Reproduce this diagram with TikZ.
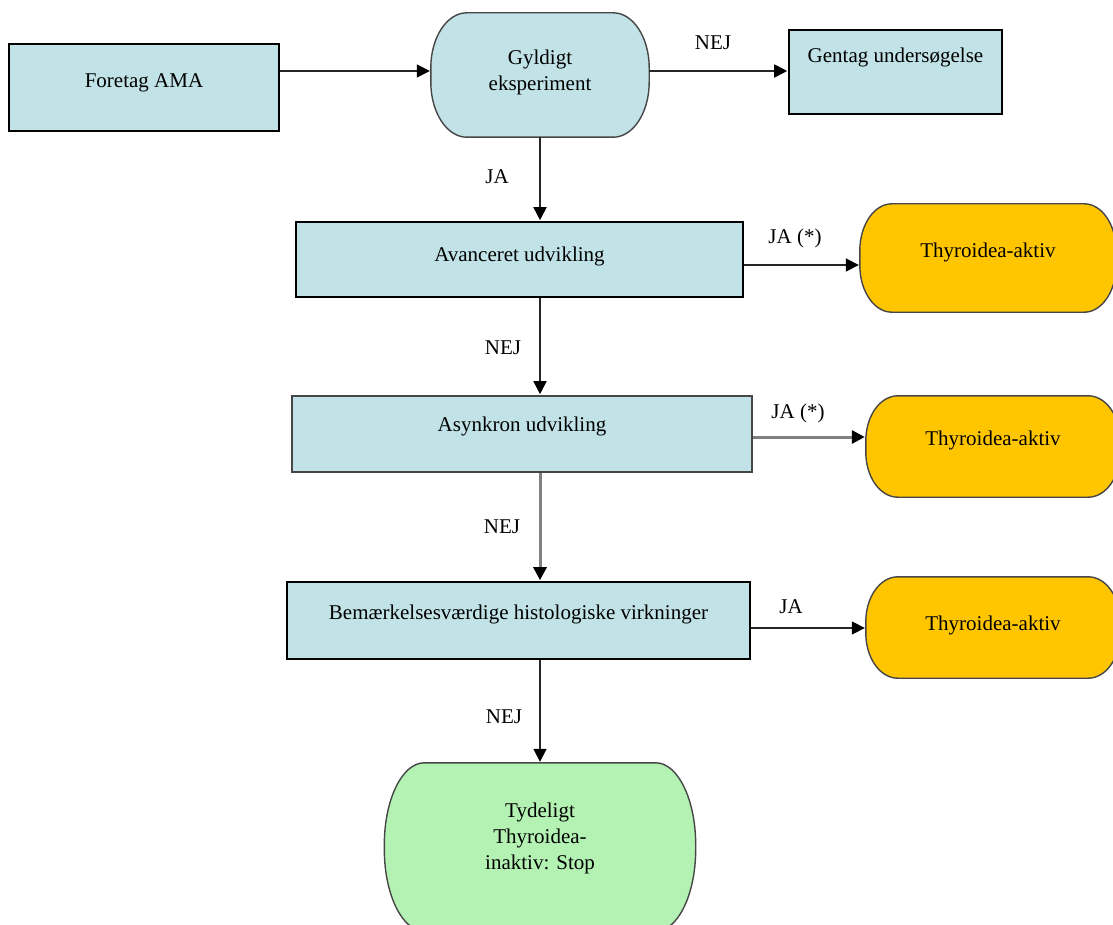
\documentclass[tikz,border=0pt]{standalone}
\usepackage{fontspec}
\setmainfont{Liberation Serif}
\usetikzlibrary{arrows.meta,backgrounds,calc}

\definecolor{boxblue}{RGB}{193,226,230}
\definecolor{amber}{RGB}{255,198,0}
\definecolor{mint}{RGB}{179,242,179}
\definecolor{edgegray}{RGB}{70,70,70}
\definecolor{linegray}{RGB}{128,128,128}

% outline with elliptical corners around a named node: name, x radius, y radius, style
\newcommand\termshape[4]{%
  \draw[#4] ([xshift=#2]#1.north west) -- ([xshift=-#2]#1.north east)
    arc[start angle=90,end angle=0,x radius=#2,y radius=#3]
    -- ([yshift=#3]#1.south east)
    arc[start angle=0,end angle=-90,x radius=#2,y radius=#3]
    -- ([xshift=#2]#1.south west)
    arc[start angle=-90,end angle=-180,x radius=#2,y radius=#3]
    -- ([yshift=-#3]#1.north west)
    arc[start angle=180,end angle=90,x radius=#2,y radius=#3]
    -- cycle;}

\tikzset{
  txt/.style={font=\fontsize{21}{26}\selectfont, align=center, inner sep=0pt},
  blockbox/.style={draw=black, line width=1.6pt, fill=boxblue, inner sep=0pt},
  shell/.style={inner sep=0pt},
  lbl/.style={font=\fontsize{21}{26}\selectfont, inner sep=0pt},
  arr/.style={line width=1.7pt, draw=black!85, shorten >=1pt,
    -{Triangle[length=13pt,width=13pt,color=black]}},
  grayarr/.style={arr, draw=linegray, line width=3pt},
}

\begin{document}
\begin{tikzpicture}[x=1pt,y=-1pt]
\useasboundingbox (0,0) rectangle (1113,925);

% process boxes
\node[blockbox, minimum width=270pt, minimum height=87pt,
  label={[txt,yshift=5pt]center:Foretag AMA}] (ama) at (144,87.5) {};
\node[blockbox, minimum width=213pt, minimum height=84pt,
  label={[txt,yshift=15pt]center:Gentag undersøgelse}] (gen) at (895.5,72) {};
\node[blockbox, minimum width=447pt, minimum height=75pt,
  label={[txt,yshift=3.5pt]center:Avanceret udvikling}] (avan) at (519.5,259.5) {};
\node[blockbox, draw=edgegray, minimum width=460pt, minimum height=76pt,
  label={[txt,yshift=8pt]center:Asynkron udvikling}] (asyn) at (522,434) {};
\node[blockbox, minimum width=463pt, minimum height=77pt,
  label={[txt,yshift=6pt]center:Bemærkelsesværdige histologiske virkninger}] (bem) at (518.5,620.5) {};

% decision and end points with rounded ends
\node[shell, minimum width=218pt, minimum height=124pt,
  label={[txt,yshift=2.5pt]center:Gyldigt\\eksperiment}] (gyl) at (540,75) {};
\node[shell, minimum width=256pt, minimum height=108pt,
  label={[txt,yshift=6pt]center:Thyroidea-aktiv}] (thya) at (988,258) {};
\node[shell, minimum width=254pt, minimum height=101pt,
  label={[txt,yshift=6pt]center:Thyroidea-aktiv}] (thyb) at (993,446.5) {};
\node[shell, minimum width=254pt, minimum height=101pt,
  label={[txt,yshift=2pt]center:Thyroidea-aktiv}] (thyc) at (993,627.5) {};
\node[shell, minimum width=311pt, minimum height=168pt,
  label={[txt,yshift=9pt]center:Tydeligt\\Thyroidea-\\inaktiv: Stop}] (tyd) at (540,847) {};

\begin{scope}[on background layer]
  \termshape{gyl}{36pt}{55pt}{draw=edgegray, line width=1.4pt, fill=boxblue}
  \termshape{thya}{32pt}{47pt}{draw=edgegray, line width=1.4pt, fill=amber}
  \termshape{thyb}{32pt}{45pt}{draw=edgegray, line width=1.4pt, fill=amber}
  \termshape{thyc}{32pt}{45pt}{draw=edgegray, line width=1.4pt, fill=amber}
  \termshape{tyd}{40pt}{82pt}{draw=edgegray, line width=1.4pt, fill=mint}
\end{scope}

% connectors
\draw[arr] ([yshift=16.5pt]ama.east) -- ([yshift=4pt]gyl.west);
\draw[arr] ([yshift=4pt]gyl.east) -- ([yshift=1pt]gen.west);
\draw[arr] (gyl.south) -- (gyl.south |- avan.north);
\draw[arr] ([yshift=-5.5pt]avan.east) -- ([yshift=-7pt]thya.west);
\draw[arr] (avan.south -| gyl.south) -- (asyn.north -| gyl.south);
\draw[grayarr] ([yshift=-3pt]asyn.east) -- ([yshift=9.5pt]thyb.west);
\draw[grayarr] (asyn.south -| gyl.south) -- (bem.north -| gyl.south);
\draw[arr] ([yshift=-7.5pt]bem.east) -- ([yshift=-0.5pt]thyc.west);
\draw[arr] (bem.south -| tyd.north) -- (tyd.north);

% branch labels
\node[lbl] (nejA) at (713,43) {NEJ};
\node[lbl] (jaA) at (497,177) {JA};
\node[lbl] (jaB) at (795,238) {JA (*)};
\node[lbl] (nejB) at (503,348) {NEJ};
\node[lbl] (jaC) at (798,413) {JA (*)};
\node[lbl] (nejC) at (502,527) {NEJ};
\node[lbl] (jaD) at (791,607) {JA};
\node[lbl] (nejD) at (504,717) {NEJ};
\end{tikzpicture}
\end{document}
